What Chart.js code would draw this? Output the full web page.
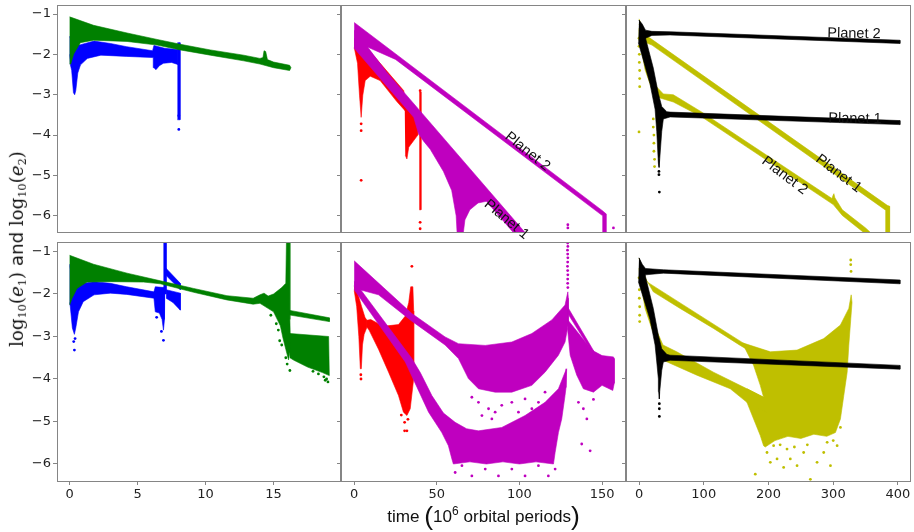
<!DOCTYPE html>
<html><head><meta charset="utf-8">
<script src="https://cdn.jsdelivr.net/npm/chart.js@4/dist/chart.umd.min.js"></script>
<style>
body{margin:0;background:#fff;width:914px;height:532px;position:relative;overflow:hidden;font-family:'DejaVu Sans',sans-serif}
.wrap{position:absolute}
.lbl{position:absolute;white-space:nowrap;font-family:'Liberation Sans',Arial,sans-serif;font-size:14.5px;color:#111;transform-origin:center center;line-height:1}
#ylab{position:absolute;white-space:nowrap;font-size:17px;color:#111;line-height:1}
#xlab{position:absolute;white-space:nowrap;font-family:'Liberation Sans',Arial,sans-serif;font-size:16.5px;color:#111;line-height:1}
.m{font-family:'DejaVu Serif',serif}
sub{font-size:0.62em;vertical-align:-0.3em;line-height:0}
</style></head><body>
<script>
// ---------- axis ticks ----------
const yTickValues = [-6,-5,-4,-3,-2,-1];
const xTicksLeft = [0,5,10,15];
const xTicksMid = [0,50,100,150];
const xTicksRight = [0,100,200,300,400];

// ---------- top-left panel (blue = e1, green = e2) ----------
const tlGreen = [[0,-1.07],[1.76,-1.28],[4.22,-1.47],[6.43,-1.63],[8.14,-1.75],[10.35,-1.89],[12.8,-2.02],[14.0,-2.10],[14.22,-2.08],[14.3,-1.91],[14.42,-1.93],[14.55,-2.13],[15.0,-2.19],[16.18,-2.27],[16.28,-2.33],[16.18,-2.40],[15.0,-2.33],[14.0,-2.24],[12.8,-2.16],[10.35,-2.02],[8.14,-1.89],[6.43,-1.77],[4.22,-1.68],[1.76,-1.65],[0.79,-1.71],[0.3,-1.99],[0.08,-2.24],[0,-2.24]];
const tlBlue = [[0,-1.55],[0.3,-1.80],[0.8,-1.76],[1.8,-1.67],[3.0,-1.73],[4.2,-1.81],[6.1,-1.91],[6.2,-1.78],[7.0,-1.85],[7.95,-1.88],[7.95,-2.25],[7.5,-2.2],[6.9,-2.22],[6.6,-2.28],[6.35,-2.38],[6.2,-2.33],[6.15,-2.08],[4.2,-2.05],[2.3,-2.02],[1.3,-2.1],[0.8,-2.26],[0.6,-2.46],[0.45,-2.9],[0.37,-3.0],[0.28,-2.95],[0.15,-2.4],[0.05,-2.25],[0,-2.0]];
const tlBlueSpike = [[7.93,-1.71],[8.12,-1.71],[8.12,-3.62],[7.93,-3.62]];
const tlBlueDots = [[8.03,-3.86],[8.03,-3.52]];

// ---------- bottom-left panel ----------
const blGreen = [[0,-1.09],[1.76,-1.30],[4.22,-1.51],[6.67,-1.69],[9.12,-1.87],[11.57,-2.04],[13.5,-2.10],[14.0,-2.02],[14.3,-1.98],[14.6,-2.05],[15.0,-2.0],[15.6,-1.85],[15.9,-1.75],[15.95,-0.7],[16.2,-0.7],[16.2,-2.6],[16.25,-3.3],[16.1,-3.55],[15.9,-3.3],[15.7,-3.05],[15.5,-2.75],[15.0,-2.42],[14.0,-2.22],[13.5,-2.24],[11.57,-2.14],[9.12,-1.96],[6.67,-1.76],[5.44,-1.72],[3.0,-1.71],[1.28,-1.72],[0.54,-1.87],[0.18,-2.10],[0,-2.26]];
const blGreenTail = [[16.1,-2.38],[19.1,-2.56],[19.1,-2.65],[16.1,-2.49]];
const blGreenBlock = [[16.2,-2.93],[19.05,-3.0],[19.1,-3.92],[18.6,-3.85],[17.5,-3.72],[16.5,-3.56],[16.2,-3.5]];
const blGreenDots = [[19.0,-4.07],[18.9,-4.0],[18.7,-3.95],[18.3,-3.88],[16.2,-3.8],[15.9,-3.5],[15.6,-3.2],[15.45,-3.1],[16.0,-3.65],[18.8,-4.03],[17.9,-3.82],[15.2,-2.7],[15.35,-2.85],[14.8,-2.5]];
const blBlue = [[0,-1.3],[0.3,-1.87],[1.0,-1.75],[1.8,-1.71],[3.0,-1.75],[4.2,-1.83],[6.2,-1.95],[6.3,-1.83],[7.0,-1.85],[7.0,-2.3],[6.95,-2.6],[6.9,-2.85],[6.8,-2.6],[6.6,-2.45],[6.3,-2.42],[6.2,-2.1],[4.2,-2.01],[3.0,-1.98],[1.8,-2.02],[1.0,-2.18],[0.65,-2.42],[0.45,-2.8],[0.35,-2.95],[0.2,-2.8],[0.05,-2.3],[0,-2.2]];
const blBlueSpike = [[6.9,-0.7],[7.1,-0.7],[7.1,-2.0],[6.9,-2.0]];
const blBlueBranch1 = [[7.05,-1.38],[8.14,-1.75],[8.14,-1.9],[7.05,-1.55]];
const blBlueBranch2 = [[7.1,-1.9],[8.14,-1.98],[8.14,-2.38],[7.6,-2.2],[7.1,-2.1]];
const blBlueDots = [[0.35,-3.32],[0.3,-3.12],[0.4,-3.05],[6.9,-3.09],[6.75,-2.88],[6.4,-2.55]];

// ---------- top-middle panel (red = e1, magenta = e2) ----------
const tmRed1 = [[0,-1.6],[10,-1.95],[30,-2.9],[30.9,-3.40],[25.8,-3.17],[15.7,-2.65],[9.7,-2.54],[6.65,-2.65],[5.2,-3.01],[4.2,-3.56],[3.2,-3.01],[2.0,-2.22],[0,-1.83]];
const tmRed2 = [[30.5,-3.0],[33,-3.2],[38.5,-3.6],[38.5,-4.0],[33,-4.3],[31.9,-4.59],[30.9,-4.5]];
const tmRedSpike = [[39.4,-2.93],[40.4,-2.93],[40.4,-5.85],[39.4,-5.85]];
const tmRedDots = [[4.2,-3.72],[4.2,-3.89],[4.2,-5.12],[39.9,-6.16],[39.9,-6.32],[39.9,-2.9]];
const tmMagP2 = [[0,-1.21],[150.8,-5.89],[152.4,-5.95],[152.4,-6.6],[150.4,-6.6],[150.4,-6.0],[25,-2.125],[8.7,-1.83],[0,-1.85]];
const tmMagP1 = [[0,-1.4],[8.7,-1.85],[20,-2.46],[120,-7.2],[112.9,-7.2],[80,-5.64],[75,-5.68],[70,-5.85],[67,-6.1],[65.5,-6.6],[64,-8],[62.5,-6.6],[61.7,-6.0],[59,-5.37],[54,-4.9],[46,-4.35],[42,-4.15],[38.9,-3.96],[36,-3.56],[30,-3.27],[20,-2.80],[0,-1.85]];
const tmMagDots = [[156.9,-6.3],[129.3,-6.3],[129.3,-6.22]];

// ---------- top-right panel (black, yellow) ----------
const trYellowP1 = [[0,-1.12],[9.3,-1.51],[383.4,-5.74],[387,-5.76],[387,-6.6],[381,-6.6],[381,-5.86],[20,-1.77],[9,-1.7],[5,-1.5],[0,-1.4]];
const trYellowP2 = [[0,-1.25],[5,-1.45],[12,-1.8],[17,-2.3],[27,-2.8],[37.6,-2.98],[53,-3.0],[96,-3.42],[298,-5.57],[299.5,-5.5],[301,-5.45],[302.5,-5.55],[314,-5.85],[350,-6.3],[360,-6.45],[350,-6.45],[314,-5.99],[300,-5.72],[96,-3.54],[53,-3.18],[32.5,-3.08],[19.6,-2.85],[9.3,-2.38],[1.5,-1.66],[0,-1.35]];
const trYellowDots = [[0,-1.6],[0,-1.8],[0.5,-2.0],[0.5,-2.2],[1,-2.4],[1,-2.6],[1,-2.8],[0,-3.92],[22,-3.6],[22,-3.8],[23,-4.0],[23,-4.2],[23,-4.4],[24,-4.6],[24,-4.78]];
const trBlackP2 = [[0,-1.15],[5,-1.25],[10,-1.4],[20,-1.43],[48,-1.44],[403,-1.65],[403,-1.73],[48,-1.52],[20,-1.53],[10,-1.6],[5,-1.7]];
const trBlackP1 = [[0,-1.15],[9.3,-1.55],[22.1,-2.34],[29.9,-2.97],[35.1,-3.29],[42.9,-3.42],[48,-3.43],[403,-3.64],[403,-3.74],[48,-3.55],[37.6,-3.6],[35.1,-3.91],[32,-4.6],[31,-4.8],[29.9,-4.70],[27.4,-3.91],[24.8,-3.36],[17,-2.73],[-1,-1.71]];
const trBlackDots = [[31.4,-5.41],[30.8,-4.9],[30.8,-4.98]];

// ---------- bottom-middle panel ----------
const bmRedSpike = [[0,-1.82],[1.5,-1.9],[3,-2.1],[4.5,-2.3],[6.5,-2.55],[7.7,-2.62],[7.7,-2.78],[6,-2.95],[5,-3.2],[4.3,-3.76],[3.7,-3.76],[2.8,-3.0],[1.5,-2.3],[0,-1.92]];
const bmRedBody = [[7.7,-2.62],[10,-2.6],[14.7,-2.7],[20,-2.75],[26.8,-2.72],[30.9,-2.52],[33,-2.2],[34.2,-1.83],[35.5,-1.83],[36,-2.4],[36,-3.99],[33.9,-4.7],[31.9,-4.86],[29.8,-4.78],[26.8,-4.39],[20.8,-3.84],[14.7,-3.3],[9,-2.85],[7.7,-2.78]];
const bmRedDots = [[34.9,-1.35],[30.5,-5.22],[31.9,-5.22],[30.5,-5.02],[28.5,-4.85],[32.5,-4.95],[4,-3.9],[4.1,-4.0]];
const bmMagP2 = [[0,-1.22],[34.9,-2.46],[55,-3.01],[63.1,-3.17],[79.3,-3.21],[95.4,-3.13],[107.5,-2.93],[119.6,-2.61],[127.6,-2.26],[129.3,-1.95],[129.6,-2.1],[129.6,-2.7],[127.6,-3.13],[123.6,-3.44],[115.5,-3.84],[107.5,-4.15],[95.4,-4.31],[85.3,-4.31],[75.2,-4.23],[69.1,-3.99],[63.1,-3.52],[55,-3.2],[34.9,-2.64],[14.7,-2.02],[0.6,-1.87],[0,-1.8]];
const bmMagP1 = [[0,-1.7],[2.6,-1.83],[34.9,-3.52],[40,-3.85],[47,-4.39],[54,-4.8],[61.1,-5.02],[68,-5.17],[75.2,-5.22],[89.3,-5.14],[103.4,-4.86],[115.5,-4.55],[123.6,-4.23],[127.6,-3.84],[128.6,-3.76],[128.2,-4.2],[127.6,-4.39],[125.6,-4.94],[123.6,-5.26],[121.6,-5.73],[120.6,-6.0],[110,-5.95],[100,-6.0],[90,-5.95],[80,-6.0],[70,-5.95],[60,-6.0],[59.1,-5.88],[57,-5.57],[53,-5.26],[45,-4.78],[30.9,-3.6],[0,-1.9]];
const bmMagRightBand = [[129.1,-2.3],[144.8,-3.33],[144.8,-3.43],[129.1,-2.45]];
const bmMagRight = [[129.1,-2.6],[143.8,-3.32],[150,-3.45],[156.9,-3.48],[157.4,-3.52],[157.4,-4.1],[156.5,-4.27],[150,-4.15],[144.8,-4.31],[138.7,-4.23],[134.7,-3.91],[130.7,-3.44],[129.1,-2.81]];
const bmMagDots = [[129.2,-0.8],[129.3,-0.88],[129.1,-0.97],[129.2,-1.06],[129.3,-1.15],[129.2,-1.25],[129.1,-1.35],[129.2,-1.45],[129.3,-1.55],[129.2,-1.65],[129.2,-1.75],[129.3,-1.85],
  [71.2,-4.43],[75.2,-4.55],[77.3,-4.86],[81.3,-4.70],[85.3,-4.78],[89.3,-4.62],[95.4,-4.55],[99.4,-4.78],[103.4,-4.47],[107.5,-4.70],[111.5,-4.55],[115.5,-4.31],[83.3,-4.94],[113.5,-4.78],
  [61.1,-6.20],[65.2,-6.04],[71.2,-6.28],[79.3,-6.12],[87.3,-6.28],[95.4,-6.12],[103.4,-6.28],[111.5,-6.04],[117.5,-6.28],[121.6,-6.12],
  [138.7,-4.70],[140.8,-4.94],[137.7,-5.53],[142.8,-5.69],[135.7,-4.55],[144.8,-4.48]];

// ---------- bottom-right panel ----------
const brYellowP1 = [[0,-1.16],[11.9,-1.71],[166.7,-3.21],[200,-3.36],[200,-3.6],[156.3,-3.21],[115,-2.81],[63.5,-2.34],[22.1,-1.95],[5,-1.5],[0,-1.4]];
const brYellowP2 = [[0,-1.4],[1.5,-1.63],[9.3,-2.34],[19.6,-2.81],[32.5,-3.3],[37.6,-3.56],[89.3,-3.91],[140.9,-4.23],[166.7,-4.55],[200,-4.8],[200,-4.45],[192.4,-4.43],[166.7,-4.23],[115,-3.84],[58.3,-3.36],[37,-3.2],[27,-2.85],[17,-2.3],[12,-1.8],[5,-1.45]];
const brYellowCloud = [[160,-3.15],[202.8,-3.36],[244.1,-3.32],[285.3,-3.05],[311.1,-2.73],[324,-2.34],[327.7,-2.02],[329,-2.2],[324,-3.21],[321.5,-3.84],[316.3,-4.39],[311.1,-4.94],[303.4,-5.26],[290,-5.35],[270,-5.3],[250,-5.4],[230,-5.35],[210,-5.45],[195,-5.6],[192.4,-5.57],[187.3,-5.33],[177,-4.94],[166.7,-4.55],[166.7,-4.23],[192.4,-4.43],[187.3,-4.15],[177,-3.68],[161.5,-3.21]];
const brYellowDots = [[179.6,-6.24],[197.7,-5.73],[202.8,-5.96],[213.2,-5.88],[223.4,-6.08],[233.7,-5.88],[244.1,-6.04],[254.3,-5.73],[264.7,-6.36],[275,-5.96],[285.3,-5.73],[295.7,-6.04],[306,-5.57],[311.1,-5.14],[207.9,-5.57],[228.6,-5.65],[290.6,-5.49],
  [327,-1.2],[327,-1.31],[327.5,-1.47],[0,-1.62],[0.5,-1.9],[0.5,-2.1],[1,-2.3],[1,-2.5],[1,-2.65],[260,-5.55],[240,-5.6],[218,-5.55],[300,-5.45]];
const brBlackP2 = [[0,-1.15],[5,-1.3],[10,-1.4],[37.6,-1.43],[403,-1.67],[403,-1.76],[37.6,-1.51],[10,-1.55],[5,-1.7]];
const brBlackP1 = [[0,-1.15],[9.3,-1.55],[22.1,-2.34],[29.9,-2.97],[35.1,-3.29],[42.9,-3.42],[48,-3.44],[403,-3.68],[403,-3.77],[48,-3.56],[37.6,-3.6],[35.1,-3.8],[32,-4.3],[31.4,-4.47],[30.5,-4.3],[29.9,-4.0],[27.4,-3.6],[24.8,-3.2],[17,-2.6],[-1,-1.71]];
const brBlackDots = [[31.4,-4.70],[31.4,-4.88],[31.4,-4.58]];

// ---------- colours ----------
const C = {g:'#008000', b:'#0000ff', r:'#ff0000', m:'#bf00bf', y:'#bfbf00', k:'#000000'};
const SPINE = '#858585';

// ---------- helpers ----------
const toXY = a => a.map(p => ({x:p[0], y:p[1]}));
function poly(a, col, order){ return {data:toXY(a), showLine:true, fill:'shape', backgroundColor:col, borderColor:col, borderWidth:0.6, pointRadius:0, tension:0, order, clip:0}; }
function dots(a, col, order, r){ return {data:toXY(a), showLine:false, backgroundColor:col, borderColor:col, borderWidth:0, pointRadius:r||1.4, order, clip:0}; }

const frame = {id:'frame', afterDraw(c){ const a=c.chartArea, x=c.ctx; x.save(); x.strokeStyle=SPINE; x.lineWidth=1; x.strokeRect(Math.round(a.left)+0.5, Math.round(a.top)+0.5, Math.round(a.right-a.left)-1, Math.round(a.bottom-a.top)); x.restore(); }};

const YR = [-6.40, -0.777];
const cols = [{x:57,w:284},{x:341,w:285},{x:626,w:285}];
const rows = [{y:5,h:237},{y:242,h:239}];
const TOPPAD = 10, RPAD = 16;

function panel(ci, ri, xr, xt, datasets){
  const col = cols[ci], row = rows[ri];
  const yw = ci===0 ? 45 : 6;
  const bh = ri===1 ? 32 : 10;
  const W = col.w + yw + RPAD, H = row.h + TOPPAD + bh;
  const wrap = document.createElement('div');
  wrap.className='wrap';
  wrap.style.left = (col.x - yw)+'px'; wrap.style.top = (row.y - TOPPAD)+'px';
  wrap.style.width = W+'px'; wrap.style.height = H+'px';
  const cv = document.createElement('canvas');
  cv.width = W; cv.height = H; cv.style.width=W+'px'; cv.style.height=H+'px';
  wrap.appendChild(cv); document.body.appendChild(wrap);
  new Chart(cv, {
    type:'scatter',
    data:{datasets},
    plugins:[frame],
    options:{
      responsive:false, maintainAspectRatio:false, animation:false, events:[],
      layout:{padding:{top:TOPPAD, right:RPAD, left:0, bottom: ri===1?0:bh}},
      plugins:{legend:{display:false}, tooltip:{enabled:false}},
      scales:{
        x:{type:'linear', min:xr[0], max:xr[1], display: ri===1,
           afterBuildTicks:s=>{s.ticks = xt.map(v=>({value:v}));},
           afterFit:s=>{s.height = bh;},
           grid:{display:true, drawOnChartArea:false, drawTicks:true, tickLength:4, color:SPINE},
           border:{display:false},
           ticks:{color:'#222', font:{family:'DejaVu Sans', size:13}, padding:2, maxRotation:0, autoSkip:false}},
        y:{type:'linear', min:YR[0], max:YR[1],
           afterBuildTicks:s=>{s.ticks = yTickValues.map(v=>({value:v}));},
           afterFit:s=>{s.width = yw;},
           grid:{display:true, drawOnChartArea:false, drawTicks:true, tickLength:4, color:SPINE},
           border:{display:false},
           ticks:{display: ci===0, color:'#222', font:{family:'DejaVu Sans', size:13}, padding:2,
                  callback:v=>String(v).replace('-', '\u2212')}}
      }
    }
  });
}

panel(0,0,[-0.93,19.96],xTicksLeft,[poly(tlGreen,C.g,1), poly(tlBlue,C.b,2), poly(tlBlueSpike,C.b,2), dots(tlBlueDots,C.b,2)]);
panel(0,1,[-0.93,19.96],xTicksLeft,[poly(blGreen,C.g,1), poly(blGreenTail,C.g,1), poly(blGreenBlock,C.g,1), dots(blGreenDots,C.g,1),
  poly(blBlue,C.b,2), poly(blBlueSpike,C.b,2), poly(blBlueBranch1,C.b,2), poly(blBlueBranch2,C.b,2), dots(blBlueDots,C.b,2)]);
panel(1,0,[-8.0,164.5],xTicksMid,[poly(tmMagP2,C.m,1), poly(tmMagP1,C.m,1), dots(tmMagDots,C.m,1),
  poly(tmRed1,C.r,2), poly(tmRed2,C.r,2), poly(tmRedSpike,C.r,2), dots(tmRedDots,C.r,2)]);
panel(1,1,[-8.0,164.5],xTicksMid,[poly(bmMagP2,C.m,1), poly(bmMagP1,C.m,1), poly(bmMagRightBand,C.m,1), poly(bmMagRight,C.m,1), dots(bmMagDots,C.m,1),
  poly(bmRedSpike,C.r,2), poly(bmRedBody,C.r,2), dots(bmRedDots,C.r,2)]);
panel(2,0,[-20.1,420.1],xTicksRight,[poly(trBlackP2,C.k,1), poly(trBlackP1,C.k,1), dots(trBlackDots,C.k,1),
  poly(trYellowP1,C.y,2), poly(trYellowP2,C.y,2), dots(trYellowDots,C.y,2)]);
panel(2,1,[-20.1,420.1],xTicksRight,[poly(brBlackP2,C.k,1), poly(brBlackP1,C.k,1), dots(brBlackDots,C.k,1),
  poly(brYellowP1,C.y,2), poly(brYellowP2,C.y,2), poly(brYellowCloud,C.y,2), dots(brYellowDots,C.y,2)]);

// ---------- text labels ----------
function label(txt, cx, cy, rot){
  const d = document.createElement('div'); d.className='lbl'; d.textContent = txt;
  d.style.left = cx+'px'; d.style.top = cy+'px';
  d.style.transform = 'translate(-50%,-50%) rotate('+rot+'deg)';
  document.body.appendChild(d);
}
label('Planet 2', 528, 151, 39);
label('Planet 1', 507, 219, 40);
label('Planet 2', 854, 33, 1);
label('Planet 1', 855, 118, 1);
label('Planet 1', 839, 173, 37);
label('Planet 2', 785, 175, 37);

function fitText(el, targetW){
  const w = el.offsetWidth; const fs = parseFloat(getComputedStyle(el).fontSize);
  el.style.fontSize = (fs*targetW/w).toFixed(2)+'px';
}
const yl = document.createElement('div'); yl.id='ylab';
yl.innerHTML = '<span class="m">log<sub>10</sub>(<i>e</i><sub>1</sub>)</span> and <span class="m">log<sub>10</sub>(<i>e</i><sub>2</sub>)</span>';
document.body.appendChild(yl);
fitText(yl, 196);
yl.style.left='17px'; yl.style.top='249px'; yl.style.transform='translate(-50%,-50%) rotate(-90deg)';

const xl = document.createElement('div'); xl.id='xlab';
xl.innerHTML = 'time <span style="font-size:1.55em;vertical-align:-0.12em;font-weight:200">(</span>10<sup style="font-size:0.7em">6</sup> orbital periods<span style="font-size:1.55em;vertical-align:-0.12em;font-weight:200">)</span>';
document.body.appendChild(xl);
fitText(xl, 193);
xl.style.left='483.5px'; xl.style.top='516px'; xl.style.transform='translate(-50%,-50%)';
</script>
</body></html>
